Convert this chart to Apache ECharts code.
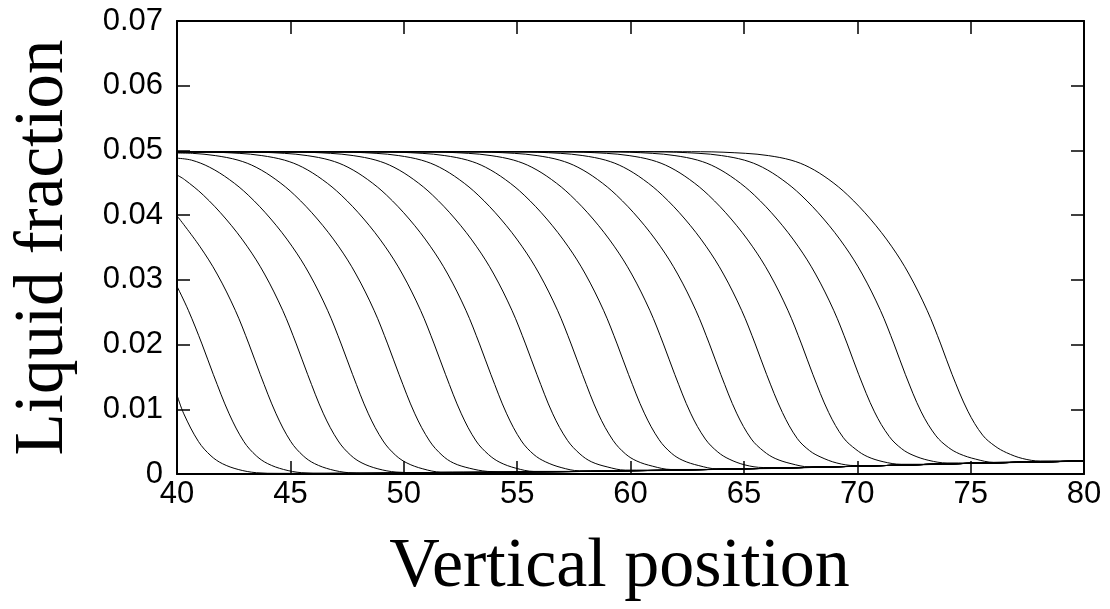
<!DOCTYPE html>
<html lang="en">
  <head>
    <meta charset="utf-8" />
    <title>Liquid fraction</title>
    <style>
      html, body { margin: 0; background: #fff; }
      #container { width: 1110px; height: 609px; }
    </style>
  </head>
  <body>
    <div id="container"></div>
    <script src="https://cdn.jsdelivr.net/npm/echarts@6.0.0/dist/echarts.min.js"></script>
    <script type="text/javascript">
      // axis ranges / ticks
      const xRange = [40, 80];
      const xStep = 5;
      const yRange = [0, 0.07];
      const yStep = 0.01;

      // common floor the fronts settle onto (thick line along the bottom)
      const baseX = [40, 45, 50, 55, 60, 65, 70, 75, 80];
      const baseY = [0.0001, 0.0001, 0.0002, 0.0003, 0.0005, 0.0008, 0.0012, 0.00165, 0.002];

      // one profile per output time, [vertical position, liquid fraction]
      const front1 = [[40, 0.0122], [40.3, 0.0093], [40.95, 0.005], [41.5, 0.0028], [42.0, 0.0016], [42.7, 0.0007], [43.5, 0.0002], [44.5, 0.0001]];
      const front2 = [[40, 0.029], [40.5, 0.0253], [41.1, 0.0201], [41.6, 0.0154], [42.3, 0.0093], [42.95, 0.005], [43.5, 0.0028], [44.0, 0.0016], [44.7, 0.0007], [45.5, 0.0002], [46.5, 0.0001]];
      const front3 = [[40, 0.0399], [41.0, 0.0352], [41.77, 0.0309], [42.57, 0.0253], [43.17, 0.0201], [43.67, 0.0154], [44.37, 0.0093], [45.02, 0.005], [45.57, 0.0028], [46.07, 0.0016], [46.77, 0.0007], [47.57, 0.0002], [48.57, 0.0001]];
      const front4 = [[40, 0.0462], [40.33, 0.0455], [41.16, 0.0431], [42.16, 0.0394], [43.09, 0.0352], [43.86, 0.0309], [44.66, 0.0253], [45.26, 0.0201], [45.76, 0.0154], [46.46, 0.0093], [47.11, 0.0051], [47.66, 0.0029], [48.16, 0.0017], [48.86, 0.0008], [49.66, 0.0003], [50.66, 0.0002]];
      const front5 = [[40, 0.0488], [40.64, 0.0485], [41.44, 0.0474], [42.31, 0.0455], [43.14, 0.0431], [44.14, 0.0394], [45.07, 0.0352], [45.84, 0.0309], [46.64, 0.0253], [47.24, 0.0201], [47.74, 0.0154], [48.44, 0.0093], [49.09, 0.0051], [49.64, 0.0029], [50.14, 0.0017], [50.84, 0.0008], [51.64, 0.0003], [52.64, 0.0003]];
      const front6 = [[40, 0.0496], [40.69, 0.04955], [41.69, 0.0492], [42.69, 0.0485], [43.49, 0.0474], [44.36, 0.0455], [45.19, 0.0431], [46.19, 0.0394], [47.12, 0.0352], [47.89, 0.0309], [48.69, 0.0253], [49.29, 0.0201], [49.79, 0.0154], [50.49, 0.0093], [51.14, 0.0051], [51.69, 0.0029], [52.19, 0.0017], [52.89, 0.0009], [53.69, 0.0004], [54.69, 0.0003]];
      const front7 = [[40, 0.0498], [40.74, 0.0498], [42.74, 0.04955], [43.74, 0.0492], [44.74, 0.0485], [45.54, 0.0474], [46.41, 0.0455], [47.24, 0.0431], [48.24, 0.0394], [49.17, 0.0352], [49.94, 0.0309], [50.74, 0.0253], [51.34, 0.0201], [51.84, 0.0154], [52.54, 0.0093], [53.19, 0.0051], [53.74, 0.003], [54.24, 0.0018], [54.94, 0.0009], [55.74, 0.0004], [56.74, 0.0004]];
      const front8 = [[40, 0.0498], [42.74, 0.0498], [44.74, 0.04955], [45.74, 0.0492], [46.74, 0.0485], [47.54, 0.0474], [48.41, 0.0455], [49.24, 0.0431], [50.24, 0.0394], [51.17, 0.0352], [51.94, 0.0309], [52.74, 0.0253], [53.34, 0.0201], [53.84, 0.0154], [54.54, 0.0093], [55.19, 0.0051], [55.74, 0.003], [56.24, 0.0019], [56.94, 0.001], [57.74, 0.0005], [58.74, 0.0005]];
      const front9 = [[40, 0.0498], [44.77, 0.0498], [46.77, 0.04955], [47.77, 0.0492], [48.77, 0.0485], [49.57, 0.0474], [50.44, 0.0455], [51.27, 0.0431], [52.27, 0.0394], [53.2, 0.0352], [53.97, 0.0309], [54.77, 0.0253], [55.37, 0.0201], [55.87, 0.0154], [56.57, 0.0093], [57.22, 0.0052], [57.77, 0.0031], [58.27, 0.0019], [58.97, 0.0011], [59.77, 0.0006], [60.77, 0.0006]];
      const front10 = [[40, 0.0498], [46.78, 0.0498], [48.78, 0.04955], [49.78, 0.0492], [50.78, 0.0485], [51.58, 0.0474], [52.45, 0.0455], [53.28, 0.0431], [54.28, 0.0394], [55.21, 0.0352], [55.98, 0.0309], [56.78, 0.0253], [57.38, 0.0201], [57.88, 0.0154], [58.58, 0.0093], [59.23, 0.0052], [59.78, 0.0031], [60.28, 0.002], [60.98, 0.0012], [61.78, 0.0007], [62.78, 0.0007]];
      const front11 = [[40, 0.0498], [48.81, 0.0498], [50.81, 0.04955], [51.81, 0.0492], [52.81, 0.0485], [53.61, 0.0474], [54.48, 0.0455], [55.31, 0.0431], [56.31, 0.0394], [57.24, 0.0352], [58.01, 0.0309], [58.81, 0.0253], [59.41, 0.0201], [59.91, 0.0154], [60.61, 0.0094], [61.26, 0.0053], [61.81, 0.0032], [62.31, 0.0021], [63.01, 0.0013], [63.81, 0.0008], [64.81, 0.0008]];
      const front12 = [[40, 0.0498], [50.85, 0.0498], [52.85, 0.04955], [53.85, 0.0492], [54.85, 0.0485], [55.65, 0.0474], [56.52, 0.0455], [57.35, 0.0431], [58.35, 0.0394], [59.28, 0.0352], [60.05, 0.0309], [60.85, 0.0253], [61.45, 0.0201], [61.95, 0.0154], [62.65, 0.0094], [63.3, 0.0054], [63.85, 0.0034], [64.35, 0.0023], [65.05, 0.0014], [65.85, 0.001], [66.85, 0.001]];
      const front13 = [[40, 0.0498], [52.88, 0.0498], [54.88, 0.04955], [55.88, 0.0492], [56.88, 0.0485], [57.68, 0.0474], [58.55, 0.0455], [59.38, 0.0431], [60.38, 0.0394], [61.31, 0.0352], [62.08, 0.0309], [62.88, 0.0253], [63.48, 0.0201], [63.98, 0.0154], [64.68, 0.0094], [65.33, 0.0054], [65.88, 0.0035], [66.38, 0.0024], [67.08, 0.0016], [67.88, 0.0011], [68.88, 0.0011]];
      const front14 = [[40, 0.0498], [54.9, 0.0498], [56.9, 0.04955], [57.9, 0.0492], [58.9, 0.0485], [59.7, 0.0474], [60.57, 0.0455], [61.4, 0.0431], [62.4, 0.0394], [63.33, 0.0352], [64.1, 0.0309], [64.9, 0.0253], [65.5, 0.0201], [66.0, 0.0154], [66.7, 0.0095], [67.35, 0.0055], [67.9, 0.0036], [68.4, 0.0026], [69.1, 0.0017], [69.9, 0.0013], [70.9, 0.0013]];
      const front15 = [[40, 0.0498], [56.94, 0.0498], [58.94, 0.04955], [59.94, 0.0492], [60.94, 0.0485], [61.74, 0.0474], [62.61, 0.0455], [63.44, 0.0431], [64.44, 0.0394], [65.37, 0.0352], [66.14, 0.0309], [66.94, 0.0253], [67.54, 0.0201], [68.04, 0.0154], [68.74, 0.0095], [69.39, 0.0056], [69.94, 0.0038], [70.44, 0.0027], [71.14, 0.0019], [71.94, 0.0015], [72.94, 0.0015]];
      const front16 = [[40, 0.0498], [58.96, 0.0498], [60.96, 0.04955], [61.96, 0.0492], [62.96, 0.0485], [63.76, 0.0474], [64.63, 0.0455], [65.46, 0.0431], [66.46, 0.0394], [67.39, 0.0352], [68.16, 0.0309], [68.96, 0.0253], [69.56, 0.0201], [70.06, 0.0154], [70.76, 0.0096], [71.41, 0.0058], [71.96, 0.0039], [72.46, 0.0029], [73.16, 0.0021], [73.96, 0.0017], [74.96, 0.0017]];
      const front17 = [[40, 0.0498], [61.02, 0.0498], [63.02, 0.04955], [64.02, 0.0492], [65.02, 0.0485], [65.82, 0.0474], [66.69, 0.0455], [67.52, 0.0431], [68.52, 0.0394], [69.45, 0.0352], [70.22, 0.0309], [71.02, 0.0253], [71.62, 0.0201], [72.12, 0.0154], [72.82, 0.0096], [73.47, 0.0059], [74.02, 0.0041], [74.52, 0.0031], [75.22, 0.0023], [76.02, 0.0018], [77.02, 0.0019]];
      const front18 = [[40, 0.0498], [63.08, 0.0498], [65.08, 0.04955], [66.08, 0.0492], [67.08, 0.0485], [67.88, 0.0474], [68.75, 0.0455], [69.58, 0.0431], [70.58, 0.0394], [71.51, 0.0352], [72.28, 0.0309], [73.08, 0.0253], [73.68, 0.0201], [74.18, 0.0154], [74.88, 0.0097], [75.53, 0.006], [76.08, 0.0043], [76.58, 0.0033], [77.28, 0.0024], [78.08, 0.002], [79.08, 0.002]];

      const fronts = [front1, front2, front3, front4, front5, front6, front7, front8, front9,
        front10, front11, front12, front13, front14, front15, front16, front17, front18];

      var dom = document.getElementById("container");
      var myChart = echarts.init(dom, null, { renderer: "canvas" });

      // every profile runs on along the floor once it has come down
      function withFloor(pts) {
        var out = pts.slice();
        var lastX = pts[pts.length - 1][0];
        for (var i = 0; i < baseX.length; i++) {
          if (baseX[i] > lastX + 0.8) out.push([baseX[i], baseY[i]]);
        }
        return out;
      }

      var series = fronts.map(function (pts, i) {
        return {
          name: "t" + (i + 1),
          type: "line",
          data: withFloor(pts),
          smooth: 0.35,
          showSymbol: false,
          clip: true,
          lineStyle: { color: "#000", width: 1 },
          emphasis: { disabled: true },
        };
      });

      var tickFont = { fontFamily: "Liberation Sans", fontSize: 31, color: "#000" };

      var frameAxis = {
        axisLine: { show: true, onZero: false, lineStyle: { color: "#000", width: 2 } },
        axisTick: { show: true, inside: true, length: 13, lineStyle: { color: "#000", width: 1.5 } },
        splitLine: { show: false },
      };

      var option = {
        animation: false,
        backgroundColor: "#fff",
        grid: { left: 177, right: 26, top: 21, bottom: 135, containLabel: false, outerBoundsMode: "none" },
        xAxis: [
          Object.assign({
            type: "value",
            position: "bottom",
            min: xRange[0],
            max: xRange[1],
            interval: xStep,
            name: "Vertical position",
            nameLocation: "middle",
            nameGap: 59,
            nameMoveOverlap: false,
            nameTextStyle: { fontFamily: "Liberation Serif", fontSize: 70, color: "#000", padding: [0, 22, 0, 0] },
            axisLabel: Object.assign({ margin: 5 }, tickFont),
          }, frameAxis),
          Object.assign({
            type: "value",
            position: "top",
            min: xRange[0],
            max: xRange[1],
            interval: xStep,
            axisLabel: { show: false },
          }, frameAxis),
        ],
        yAxis: [
          Object.assign({
            type: "value",
            position: "left",
            min: yRange[0],
            max: yRange[1],
            interval: yStep,
            name: "Liquid fraction",
            nameLocation: "middle",
            nameGap: 99,
            nameMoveOverlap: false,
            nameTextStyle: { fontFamily: "Liberation Serif", fontSize: 69, color: "#000" },
            axisLabel: Object.assign({
              margin: 14,
              formatter: function (v) { return v === 0 ? "0" : v.toFixed(2); },
            }, tickFont),
          }, frameAxis),
          Object.assign({
            type: "value",
            position: "right",
            min: yRange[0],
            max: yRange[1],
            interval: yStep,
            axisLabel: { show: false },
          }, frameAxis),
        ],
        series: series,
      };

      myChart.setOption(option);
      window.addEventListener("resize", myChart.resize);
    </script>
  </body>
</html>
